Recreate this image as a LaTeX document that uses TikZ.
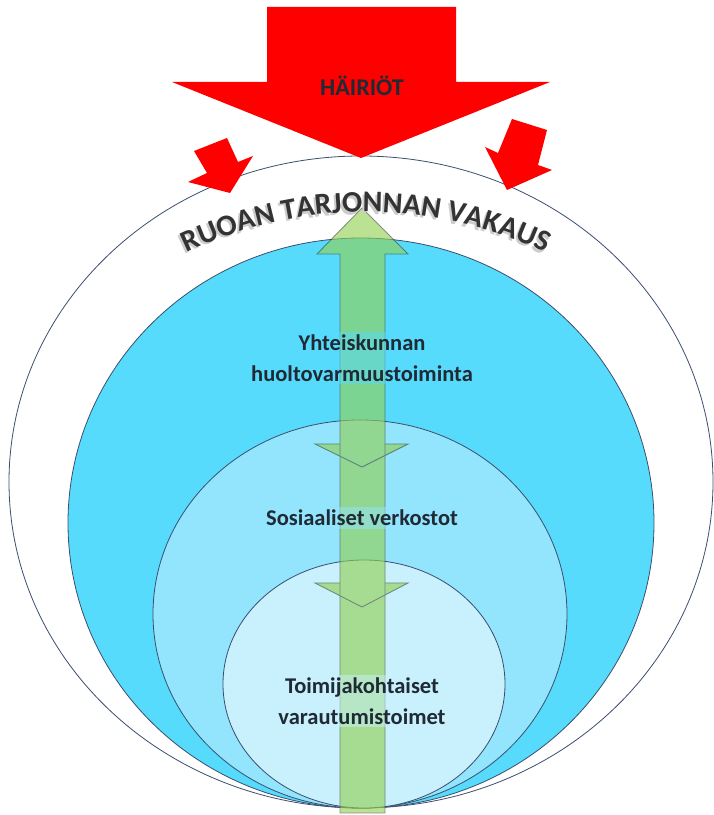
\documentclass[tikz,border=0pt]{standalone}
\usepackage{fontspec}
\setmainfont{Carlito}
\usetikzlibrary{decorations.text}
\definecolor{bluea}{HTML}{57DBFD}
\definecolor{blueb}{HTML}{93E4FD}
\definecolor{bluec}{HTML}{C8F1FD}
\definecolor{edgeblue}{HTML}{3B4E6E}
\definecolor{grn}{HTML}{92D050}
\definecolor{grnedge}{HTML}{3E4A30}
\definecolor{txt}{HTML}{1F2A35}
\definecolor{redd}{HTML}{FF0000}
\tikzset{
  ring/.style={draw=edgeblue, line width=0.8pt},
  redarrow/.style={fill=redd, draw=none},
  lbl/.style={font=\bfseries\fontsize{22.5}{31}\selectfont, text=txt, align=center, inner sep=3pt, fill opacity=0.5, text opacity=1},
}
\begin{document}
\begin{tikzpicture}[x=1pt,y=1pt]
\useasboundingbox (0,0) rectangle (714,815);
% ellipses
\path[ring, fill=white] (361,333) ellipse [x radius=352, y radius=326];
\path[ring, fill=bluea] (361,292) ellipse [x radius=293, y radius=285];
\path[ring, fill=blueb] (360,201) ellipse [x radius=207, y radius=194];
\path[ring, fill=bluec] (364,131) ellipse [x radius=141, y radius=124];
% green arrows
\begin{scope}[transparency group, opacity=0.62]
  \fill[grn] (340,2) -- (340,561) -- (317,561) -- (362,607) -- (408,561) -- (385,561) -- (385,2) -- cycle;
  \fill[grn] (315,371) -- (408,371) -- (362,348) -- cycle;
  \fill[grn] (315,232) -- (408,232) -- (362,208) -- cycle;
  \draw[grnedge, line width=0.9pt] (340,2) -- (340,561) -- (317,561) -- (362,607) -- (408,561) -- (385,561) -- (385,2) -- cycle;
  \draw[grnedge, line width=0.9pt] (340,371) -- (315,371) -- (362,348) -- (408,371) -- (385,371);
  \draw[grnedge, line width=0.9pt] (340,232) -- (315,232) -- (362,208) -- (408,232) -- (385,232);
\end{scope}
% labels
\node[lbl, fill=bluea] (l1) at (362,457) {Yhteiskunnan\\huoltovarmuustoiminta};
\node[lbl, fill=blueb] (l2) at (362,297) {Sosiaaliset verkostot};
\node[lbl, fill=bluec] (l3) at (362,114) {Toimijakohtaiset\\varautumistoimet};
% red arrows
\path[redarrow] (267,808) -- (456,808) -- (456,733) -- (550,733) -- (361,657) -- (172,733) -- (267,733) -- cycle;
\node[font=\bfseries\fontsize{24}{26}\selectfont, text=txt] (h) at (362,729) {HÄIRIÖT};
\path[redarrow] (194,664) -- (227,677) -- (238,653) -- (253,659) -- (230,622) -- (188,633) -- (207,642) -- cycle;
\path[redarrow] (512,696) -- (547,685) -- (538,650) -- (552,645) -- (507,625) -- (485,668) -- (498,662) -- cycle;
% arc title
\path[decorate, decoration={text along path, text align=center,
  text={|\bfseries\fontsize{30}{31}\selectfont\color{black!20}|RUOAN TARJONNAN VAKAUS}}]
  (364,185.5) ++(124:415) arc[start angle=124, end angle=56, radius=415];
\path[decorate, decoration={text along path, text align=center,
  text={|\bfseries\fontsize{30}{31}\selectfont\color{black!80}|RUOAN TARJONNAN VAKAUS}}]
  (366,188) ++(124:415) arc[start angle=124, end angle=56, radius=415];
\end{tikzpicture}
\end{document}
